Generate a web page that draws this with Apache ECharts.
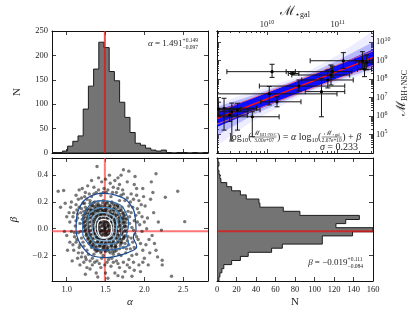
<!DOCTYPE html>
<html><head><meta charset="utf-8">
<script src="https://cdn.jsdelivr.net/npm/echarts@6/dist/echarts.min.js"></script>
<style>html,body{margin:0;padding:0;background:#fff}#c{width:415px;height:312px}</style>
</head><body><div id="c"></div>
<script>
// ================= DATA =================
const alphaFit = 1.491, alphaUp = '+0.149', alphaDn = '\u22120.097';
const betaFit = -0.019, betaUp = '+0.111', betaDn = '\u22120.084';
const sigmaText = '0.233';

// alpha histogram (30 equal bins over alphaRange)
const alphaRange = [0.81, 2.82];
const alphaCounts = [1,1,4,14,24,35,90,137,172,227,216,167,148,104,73,42,20,16,10,6,4,6,1,0,1,1,0,1,0,1];
const countRangeA = [0, 250];
const countTicksA = [0,50,100,150,200,250];
const alphaTicks = [1.0,1.5,2.0,2.5];

// beta histogram (30 equal bins over betaRange, ascending beta)
const betaRange = [-0.39, 0.528];
const betaCounts = [2,3,5,7,15,24,32,56,67,108,108,139,160,122,132,146,85,68,44,43,30,24,15,10,4,3,2,1,2,1];
const countRangeB = [0, 160];
const countTicksB = [0,20,40,60,80,100,120,140,160];
const betaTicks = [-0.2,0.0,0.2,0.4];

// top-right panel (log10 values)
const massGalRange = [9.29, 11.5];
const massBHRange = [4.0, 10.6];
const massGalTicks = [10, 11];
const massBHTicks = [5,6,7,8,9,10];
// [logMgal, logMbh, xlo, xhi, ylo, yhi]
const galaxies = [
 [10.07, 8.40, 9.43, 10.40, 8.09, 8.80],
 [10.36, 8.30, 10.30, 10.45, 8.26, 8.34],
 [11.08, 8.99, 10.61, 11.49, 8.58, 9.43],
 [11.35, 8.98, 11.25, 11.45, 8.54, 9.48],
 [11.41, 8.88, 11.30, 11.50, 8.50, 9.30],
 [11.38, 8.53, 11.28, 11.48, 8.13, 8.85],
 [10.905, 8.22, 10.35, 11.17, 7.68, 8.76],
 [10.86, 7.95, 10.49, 11.22, 7.52, 8.49],
 [10.925, 8.40, 10.27, 11.20, 8.10, 8.70],
 [10.77, 7.32, 10.54, 11.10, 5.96, 8.04],
 [10.03, 7.20, 9.20, 10.99, 6.60, 7.60],
 [10.45, 7.62, 9.89, 11.10, 7.35, 7.95],
 [10.14, 6.77, 9.91, 10.48, 6.50, 7.04],
 [9.39, 6.42, 9.20, 9.85, 5.24, 6.96],
 [9.50, 6.23, 9.20, 9.73, 4.65, 6.70],
 [9.58, 6.33, 9.20, 9.90, 5.24, 6.69],
 [9.79, 5.96, 9.20, 10.17, 4.88, 6.23],
 [9.31, 6.38, 9.20, 9.62, 6.00, 6.75],
 [9.47, 6.05, 9.20, 9.72, 5.70, 6.40]
];
const fitLineX = [9.29, 11.5], fitLineY = [5.87, 9.16];
const scatUpY = [6.22, 9.52], scatLoY = [5.56, 8.74];
const bandX = [9.29, 9.8, 10.43, 11.0, 11.5];
const outerLo = [4.40, 5.75, 7.00, 7.80, 8.40], outerHi = [6.70, 7.30, 8.10, 9.30, 10.60];
const midLo   = [4.95, 6.05, 7.12, 7.93, 8.55], midHi   = [6.50, 7.12, 7.98, 9.00, 10.00];
const coreLo  = [5.40, 6.25, 7.22, 8.05, 8.70], coreHi  = [6.30, 6.98, 7.90, 8.78, 9.60];

// alpha-beta samples
const samples = [
[1.39,0.465],[1.73,0.44],[1.80,0.43],[2.15,0.41],[0.89,0.28],[0.96,0.285],[2.43,0.28],[2.27,0.235],[2.52,0.053],[2.22,-0.01],[2.15,-0.16],[2.17,-0.21],[2.23,-0.235],[2.23,-0.27],[2.35,-0.355],[2.05,-0.27],[1.01,-0.16],[1.07,-0.24],[1.84,-0.355],[0.92,0.16],[1.62,0.36],[1.55,0.40],[1.98,0.30],[2.08,0.22],[1.93,0.12],[2.0,0.05],[2.1,-0.05],[1.95,-0.32],[1.72,-0.36],[1.50,-0.33],[1.30,-0.30],[1.12,0.25],[1.2,0.3],[1.45,0.35],[1.68,0.33],[1.04,0.05],[1.0,-0.05],[1.08,-0.12],[2.02,-0.12],[2.12,0.12],[1.9,0.25],[0.98,0.19],[1.88,0.39],[2.09,0.35],
[1.12,0.18],[1.15,0.22],[1.18,0.12],[1.14,0.08],[1.11,0.02],[1.15,-0.03],[1.13,-0.08],[1.17,-0.12],[1.20,-0.18],[1.24,-0.21],[1.28,-0.19],[1.33,-0.22],[1.39,-0.24],[1.45,-0.22],[1.52,-0.25],[1.58,-0.22],[1.64,-0.24],[1.70,-0.20],[1.76,-0.18],[1.82,-0.15],[1.85,-0.10],[1.88,-0.04],[1.84,0.01],[1.87,0.06],[1.83,0.12],[1.80,0.17],[1.75,0.21],[1.70,0.25],[1.64,0.27],[1.57,0.24],[1.51,0.27],[1.44,0.25],[1.38,0.27],[1.32,0.24],[1.26,0.22],[1.21,0.19],
[1.17,0.04],[1.19,-0.07],[1.22,-0.13],[1.26,-0.16],[1.30,0.21],[1.79,-0.06],[1.81,0.04],[1.79,0.13],[1.73,-0.14],[1.67,-0.19],[1.60,-0.19],[1.47,-0.20],[1.35,-0.19],
[1.09,0.12],[1.06,0.20],[1.10,-0.06],[1.06,-0.02],[1.24,0.27],[1.35,0.31],[1.48,0.30],[1.60,0.31],[1.72,0.29],[1.86,0.22],[1.91,0.15],[1.94,0.03],[1.92,-0.08],[1.90,-0.19],[1.86,-0.25],[1.78,-0.27],[1.68,-0.29],[1.57,-0.28],[1.44,-0.29],[1.33,-0.27],[1.22,-0.25],[1.15,-0.18],[1.27,0.32],[1.56,0.34],[1.41,0.38],[1.78,0.35],[1.98,-0.16],[2.0,-0.22],[1.96,0.18],[2.04,0.08],[1.97,-0.02],[1.87,-0.31],[1.62,-0.33],[1.38,-0.33],[1.26,-0.29],[1.16,0.29],[1.03,0.12],[1.66,0.38],[1.90,0.30],[2.06,-0.08],[1.75,-0.32],[1.93,-0.27],[1.83,0.26],[2.01,0.17],[1.14,-0.22],[1.09,-0.16],
[1.13,0.14],[1.16,0.16],[1.19,0.23],[1.23,0.24],[1.29,0.26],[1.35,0.26],[1.41,0.29],[1.47,0.27],[1.53,0.29],[1.59,0.27],[1.66,0.30],[1.73,0.26],[1.78,0.23],[1.82,0.20],[1.85,0.16],[1.89,0.10],[1.91,0.05],[1.86,-0.01],[1.90,-0.06],[1.87,-0.14],[1.84,-0.20],[1.80,-0.23],[1.73,-0.25],[1.66,-0.26],[1.60,-0.25],[1.54,-0.23],[1.49,-0.27],[1.42,-0.26],[1.36,-0.25],[1.30,-0.24],[1.25,-0.23],[1.19,-0.21],[1.16,-0.14],[1.12,-0.10],[1.10,-0.03],[1.12,0.06],[1.08,0.09],[1.14,0.11],[1.19,0.15],[1.23,0.19],[1.81,0.09],[1.83,-0.07],[1.80,-0.12],[1.77,-0.15],[1.21,-0.10],[1.18,-0.02],[1.95,-0.11],[1.97,0.09],[2.03,0.00],[1.99,0.24],[1.93,0.21],[1.04,-0.10],[1.05,0.16],[1.24,-0.34],[1.40,-0.36],[1.53,-0.37],[1.66,-0.35],[1.81,-0.29],[2.07,-0.18],[2.11,0.27],[1.32,0.36],[1.50,0.37],[1.70,0.40],[1.87,0.33],[1.17,-0.27],[1.98,-0.25],[2.13,-0.11],[2.18,0.05],[1.00,0.09],[0.97,-0.02],
[1.30,0.19],[1.36,0.20],[1.41,0.18],[1.47,0.21],[1.52,0.19],[1.58,0.20],[1.63,0.18],[1.68,0.21],
[1.24,0.16],[1.29,0.15],[1.34,0.17],[1.39,0.16],[1.44,0.15],[1.49,0.17],[1.55,0.16],[1.60,0.15],[1.66,0.17],[1.71,0.16],
[1.22,0.13],[1.27,0.12],[1.32,0.14],[1.37,0.13],[1.42,0.12],[1.46,0.14],[1.51,0.13],[1.56,0.12],[1.61,0.14],[1.67,0.13],[1.73,0.12],
[1.21,0.10],[1.26,0.09],[1.30,0.11],[1.35,0.10],[1.40,0.09],[1.45,0.11],[1.49,0.10],[1.54,0.09],[1.59,0.11],[1.64,0.10],[1.69,0.09],[1.75,0.10],
[1.20,0.07],[1.25,0.06],[1.29,0.08],[1.34,0.07],[1.38,0.06],[1.43,0.08],[1.47,0.07],[1.52,0.06],[1.57,0.08],[1.62,0.07],[1.67,0.06],[1.72,0.08],[1.77,0.07],
[1.21,0.04],[1.26,0.03],[1.31,0.05],[1.35,0.04],[1.40,0.03],[1.44,0.05],[1.49,0.04],[1.53,0.03],[1.58,0.05],[1.63,0.04],[1.68,0.03],[1.73,0.05],
[1.22,0.01],[1.27,0.00],[1.32,0.02],[1.36,0.01],[1.41,0.00],[1.46,0.02],[1.50,0.01],[1.55,0.00],[1.60,0.02],[1.65,0.01],[1.70,0.00],[1.75,0.02],
[1.23,-0.02],[1.28,-0.03],[1.33,-0.01],[1.38,-0.02],[1.42,-0.03],[1.47,-0.01],[1.51,-0.02],[1.56,-0.03],[1.61,-0.01],[1.66,-0.02],[1.71,-0.03],[1.77,-0.02],
[1.25,-0.05],[1.30,-0.06],[1.34,-0.04],[1.39,-0.05],[1.44,-0.06],[1.48,-0.04],[1.53,-0.05],[1.58,-0.06],[1.63,-0.04],[1.68,-0.05],[1.74,-0.06],
[1.27,-0.08],[1.32,-0.09],[1.36,-0.07],[1.41,-0.08],[1.46,-0.09],[1.50,-0.07],[1.55,-0.08],[1.60,-0.09],[1.65,-0.07],[1.71,-0.08],[1.78,-0.09],
[1.29,-0.11],[1.34,-0.12],[1.39,-0.10],[1.44,-0.11],[1.49,-0.12],[1.53,-0.10],[1.58,-0.11],[1.63,-0.12],[1.69,-0.10],[1.75,-0.11],
[1.32,-0.14],[1.37,-0.15],[1.42,-0.13],[1.47,-0.14],[1.52,-0.15],[1.57,-0.13],[1.62,-0.14],[1.68,-0.15],
[1.38,-0.17],[1.44,-0.18],[1.50,-0.17],[1.56,-0.18],[1.62,-0.17],
[1.33,0.115],[1.38,0.095],[1.43,0.105],[1.48,0.125],[1.53,0.085],[1.58,0.095],[1.36,0.055],[1.41,0.045],[1.46,0.035],[1.51,0.055],[1.56,0.045],[1.61,0.055],[1.34,-0.005],[1.39,0.015],[1.44,-0.015],[1.49,0.005],[1.54,0.025],[1.59,-0.005],[1.37,-0.035],[1.42,-0.045],[1.47,-0.025],[1.52,-0.035],[1.57,-0.045],[1.40,-0.065],[1.45,-0.075],[1.50,-0.055],[1.55,-0.065],[1.43,0.155],[1.50,0.145],[1.39,0.135],
[1.33,0.175],[1.385,0.18],[1.44,0.172],[1.495,0.185],[1.55,0.176],[1.605,0.18],[1.655,0.172],
[1.265,0.145],[1.315,0.14],[1.365,0.148],[1.415,0.142],[1.465,0.135],[1.52,0.15],[1.575,0.14],[1.63,0.145],[1.69,0.14],
[1.245,0.115],[1.295,0.11],[1.35,0.118],[1.40,0.112],[1.455,0.108],[1.505,0.118],[1.56,0.11],[1.615,0.116],[1.665,0.11],[1.72,0.115],
[1.225,0.085],[1.275,0.08],[1.325,0.088],[1.375,0.082],[1.425,0.078],[1.475,0.088],[1.525,0.08],[1.575,0.086],[1.625,0.08],[1.68,0.085],[1.735,0.08],
[1.23,0.055],[1.28,0.05],[1.33,0.058],[1.38,0.052],[1.43,0.048],[1.48,0.058],[1.53,0.05],[1.58,0.056],[1.63,0.05],[1.685,0.055],[1.74,0.05],
[1.235,0.025],[1.285,0.02],[1.335,0.028],[1.385,0.022],[1.435,0.018],[1.485,0.028],[1.535,0.02],[1.585,0.026],[1.635,0.02],[1.69,0.025],[1.745,0.02],
[1.245,-0.005],[1.295,-0.01],[1.345,-0.002],[1.395,-0.008],[1.445,-0.012],[1.495,-0.002],[1.545,-0.01],[1.595,-0.004],[1.645,-0.01],[1.70,-0.005],[1.755,-0.01],
[1.255,-0.035],[1.305,-0.04],[1.355,-0.032],[1.405,-0.038],[1.455,-0.042],[1.505,-0.032],[1.555,-0.04],[1.605,-0.034],[1.655,-0.04],[1.71,-0.035],
[1.275,-0.065],[1.325,-0.07],[1.375,-0.062],[1.425,-0.068],[1.475,-0.072],[1.525,-0.062],[1.575,-0.07],[1.625,-0.064],[1.68,-0.07],[1.735,-0.065],
[1.30,-0.095],[1.35,-0.10],[1.40,-0.092],[1.45,-0.098],[1.50,-0.102],[1.55,-0.092],[1.60,-0.10],[1.655,-0.094],[1.71,-0.1],
[1.32,-0.125],[1.37,-0.13],[1.42,-0.122],[1.47,-0.128],[1.52,-0.132],[1.575,-0.122],[1.63,-0.13],[1.69,-0.125],
[1.36,-0.155],[1.41,-0.16],[1.465,-0.152],[1.52,-0.158],[1.58,-0.152],[1.64,-0.16],
[1.3125,0.1675],[1.3625,0.1625],[1.4125,0.17],[1.4625,0.165],[1.5125,0.16],[1.5625,0.168],[1.6125,0.163],[1.6625,0.158],
[1.2525,0.1375],[1.3025,0.133],[1.3525,0.14],[1.4025,0.135],[1.4525,0.129],[1.5025,0.139],[1.5525,0.133],[1.6025,0.137],[1.6525,0.131],[1.7025,0.136],
[1.2325,0.1075],[1.2825,0.102],[1.3325,0.11],[1.3825,0.104],[1.4325,0.099],[1.4825,0.109],[1.5325,0.103],[1.5825,0.107],[1.6325,0.101],[1.6825,0.106],[1.7325,0.1],
[1.2175,0.0775],[1.2675,0.072],[1.3175,0.08],[1.3675,0.074],[1.4175,0.069],[1.4675,0.079],[1.5175,0.073],[1.5675,0.077],[1.6175,0.071],[1.6675,0.076],[1.7175,0.07],[1.7625,0.075],
[1.2225,0.0475],[1.2725,0.042],[1.3225,0.05],[1.3725,0.044],[1.4225,0.039],[1.4725,0.049],[1.5225,0.043],[1.5725,0.047],[1.6225,0.041],[1.6725,0.046],[1.7225,0.04],[1.7625,0.045],
[1.2275,0.0175],[1.2775,0.012],[1.3275,0.02],[1.3775,0.014],[1.4275,0.009],[1.4775,0.019],[1.5275,0.013],[1.5775,0.017],[1.6275,0.011],[1.6775,0.016],[1.7275,0.01],[1.7675,0.015],
[1.2375,-0.0125],[1.2875,-0.018],[1.3375,-0.01],[1.3875,-0.016],[1.4375,-0.021],[1.4875,-0.011],[1.5375,-0.017],[1.5875,-0.013],[1.6375,-0.019],[1.6875,-0.014],[1.7375,-0.02],
[1.2575,-0.0425],[1.3075,-0.048],[1.3575,-0.04],[1.4075,-0.046],[1.4575,-0.051],[1.5075,-0.041],[1.5575,-0.047],[1.6075,-0.043],[1.6575,-0.049],[1.7075,-0.044],[1.7525,-0.05],
[1.2825,-0.0725],[1.3325,-0.078],[1.3825,-0.07],[1.4325,-0.076],[1.4825,-0.081],[1.5325,-0.071],[1.5825,-0.077],[1.6325,-0.073],[1.6825,-0.079],[1.7325,-0.074],
[1.3025,-0.1025],[1.3525,-0.108],[1.4025,-0.1],[1.4525,-0.106],[1.5025,-0.111],[1.5525,-0.101],[1.6025,-0.107],[1.6525,-0.103],[1.7025,-0.109],
[1.3325,-0.1325],[1.3825,-0.138],[1.4325,-0.13],[1.4825,-0.136],[1.5325,-0.141],[1.5825,-0.131],[1.6325,-0.137],
[1.3925,-0.1625],[1.4425,-0.168],[1.4925,-0.16],[1.5425,-0.166],[1.5925,-0.171],
[1.3425,0.195],[1.4025,0.2],[1.4625,0.193],[1.5225,0.2],[1.5825,0.192]
];

// density contours (outer -> inner)
const contours = [
 [[1.430,0.266],[1.687,0.240],[1.838,0.165],[1.880,0.090],[1.893,-0.010],[1.858,-0.060],[1.902,-0.135],[1.858,-0.160],[1.687,-0.197],[1.515,-0.215],[1.343,-0.205],[1.236,-0.160],[1.150,-0.085],[1.120,-0.010],[1.129,0.090],[1.171,0.165],[1.258,0.228]],
 [[1.430,0.210],[1.644,0.190],[1.765,0.115],[1.795,0.028],[1.773,-0.047],[1.795,-0.110],[1.687,-0.147],[1.515,-0.160],[1.365,-0.147],[1.258,-0.097],[1.206,-0.022],[1.206,0.065],[1.249,0.140],[1.322,0.190]],
 [[1.451,0.160],[1.601,0.145],[1.687,0.090],[1.709,0.003],[1.679,-0.065],[1.558,-0.115],[1.408,-0.115],[1.309,-0.072],[1.266,0.003],[1.279,0.090],[1.344,0.140]],
 [[1.451,0.122],[1.580,0.103],[1.644,0.040],[1.636,-0.035],[1.537,-0.090],[1.408,-0.085],[1.335,-0.030],[1.322,0.053],[1.365,0.103]],
 [[1.464,0.095],[1.558,0.078],[1.601,0.015],[1.580,-0.047],[1.481,-0.072],[1.395,-0.047],[1.365,0.020],[1.395,0.078]],
 [[1.473,0.070],[1.550,0.053],[1.580,0.003],[1.558,-0.047],[1.473,-0.065],[1.408,-0.035],[1.395,0.020],[1.421,0.060]]
];
const contourColors = ['#1b4a92','#2c67ad','#4f8fc7','#86b6dc','#bcd8ee','#ffffff'];

// ================= RENDER =================
const SERIF = "'Liberation Serif','DejaVu Serif',serif";
const chart = echarts.init(document.getElementById('c'), null, {renderer:'canvas'});

const minorOf = (decades, range) => {
  const out = [];
  decades.forEach(n => [2,3,4,5,6,7,8,9].forEach(k => { const v = n + Math.log10(k); if (v > range[0] && v < range[1]) out.push(v); }));
  return out;
};
const galMinor = minorOf([9,10,11], massGalRange);
const bhMinor = minorOf([3,4,5,6,7,8,9,10], massBHRange);

const fmtBeta = v => (v < 0 ? '\u2212' : '') + Math.abs(v).toFixed(1);
const fmtAlpha = v => v.toFixed(1);
const fmtInt = v => String(v);
const pow10 = v => '{m|10}{s|' + Math.round(v) + '}';
const powRich = { m:{fontSize:8.5, fontFamily:SERIF, color:'#222'}, s:{fontSize:6, fontFamily:SERIF, color:'#222', padding:[0,0,6,0]} };

function ax(grid, pos, range, ticks, o) {
  o = o || {};
  return {
    type:'value', gridIndex:grid, position:pos, min:range[0], max:range[1], scale:true,
    axisLine:{show:true, onZero:false, lineStyle:{color:'#111', width:1}},
    axisTick:{show:true, inside:true, length:o.len || 4, customValues:ticks, lineStyle:{color:'#111', width:0.8}},
    axisLabel:{show:!!o.fmt, customValues:ticks, formatter:o.fmt, margin:(o.margin != null ? o.margin : 4), fontSize:8.5, fontFamily:SERIF, color:'#222', rich:o.rich, hideOverlap:false, showMinLabel:true, showMaxLabel:true},
    splitLine:{show:false}, minorTick:{show:false},
    name:o.name || '', nameLocation:'middle', nameGap:o.gap || 20,
    nameTextStyle:{fontSize:11, fontFamily:SERIF, color:'#222', fontStyle:o.it ? 'italic' : 'normal'}
  };
}

function histShape(range, counts, horizontal) {
  return function (params, api) {
    const n = counts.length, w = (range[1] - range[0]) / n;
    const P = (v, c) => horizontal ? api.coord([c, v]) : api.coord([v, c]);
    const pts = [P(range[0], 0)];
    for (let i = 0; i < n; i++) { pts.push(P(range[0] + i * w, counts[i])); pts.push(P(range[0] + (i + 1) * w, counts[i])); }
    pts.push(P(range[1], 0));
    return {type:'polygon', shape:{points:pts}, style:{fill:'#747474', stroke:'#1c1c1c', lineWidth:1}};
  };
}
function bandShape(lo, hi, color) {
  return function (params, api) {
    const pts = [];
    for (let i = 0; i < bandX.length; i++) pts.push(api.coord([bandX[i], hi[i]]));
    for (let i = bandX.length - 1; i >= 0; i--) pts.push(api.coord([bandX[i], lo[i]]));
    return {type:'polygon', shape:{points:pts}, style:{fill:color}};
  };
}
function errShape(params, api) {
  const x = api.value(0), y = api.value(1), xl = api.value(2), xh = api.value(3), yl = api.value(4), yh = api.value(5);
  const c = api.coord([x, y]), a = api.coord([xl, y]), b = api.coord([xh, y]), d = api.coord([x, yl]), e = api.coord([x, yh]);
  const st = {stroke:'#151515', lineWidth:1};
  const L = (x1, y1, x2, y2) => ({type:'line', shape:{x1, y1, x2, y2}, style:st});
  const cap = 2.5;
  return {type:'group', children:[
    L(a[0], a[1], b[0], b[1]), L(d[0], d[1], e[0], e[1]),
    L(d[0] - cap, d[1], d[0] + cap, d[1]), L(e[0] - cap, e[1], e[0] + cap, e[1]),
    L(a[0], a[1] - cap, a[0], a[1] + cap), L(b[0], b[1] - cap, b[0], b[1] + cap),
    {type:'circle', shape:{cx:c[0], cy:c[1], r:1.6}, style:{fill:'#000'}}
  ]};
}
const seg = (x0, y0, x1, y1) => [[x0, y0], [x1, y1]];

const series = [
  {type:'custom', xAxisIndex:0, yAxisIndex:0, renderItem:histShape(alphaRange, alphaCounts, false), data:[[alphaRange[0], 0]], clip:true, silent:true, z:2},
  {type:'line', xAxisIndex:0, yAxisIndex:0, data:seg(alphaFit, countRangeA[0], alphaFit, countRangeA[1]), symbol:'none', lineStyle:{color:'rgba(225,20,20,0.75)', width:2}, z:3, silent:true},
  {type:'custom', xAxisIndex:2, yAxisIndex:2, renderItem:bandShape(outerLo, outerHi, 'rgba(110,110,255,0.12)'), data:[[bandX[0], outerLo[0]]], clip:true, silent:true, z:2},
  {type:'custom', xAxisIndex:2, yAxisIndex:2, renderItem:bandShape(midLo, midHi, 'rgba(50,50,255,0.28)'), data:[[bandX[0], midLo[0]]], clip:true, silent:true, z:2},
  {type:'custom', xAxisIndex:2, yAxisIndex:2, renderItem:bandShape(coreLo, coreHi, 'rgba(0,0,255,0.92)'), data:[[bandX[0], coreLo[0]]], clip:true, silent:true, z:2},
  {type:'line', xAxisIndex:2, yAxisIndex:2, data:seg(fitLineX[0], scatUpY[0], fitLineX[1], scatUpY[1]), symbol:'none', lineStyle:{color:'rgba(255,110,110,0.85)', width:1}, z:3, silent:true},
  {type:'line', xAxisIndex:2, yAxisIndex:2, data:seg(fitLineX[0], scatLoY[0], fitLineX[1], scatLoY[1]), symbol:'none', lineStyle:{color:'rgba(255,110,110,0.85)', width:1}, z:3, silent:true},
  {type:'line', xAxisIndex:2, yAxisIndex:2, data:seg(fitLineX[0], fitLineY[0], fitLineX[1], fitLineY[1]), symbol:'none', lineStyle:{color:'#ff1010', width:1.5}, z:3, silent:true},
  {type:'custom', xAxisIndex:2, yAxisIndex:2, renderItem:errShape, data:galaxies, clip:true, silent:true, z:4},
  {type:'line', xAxisIndex:6, yAxisIndex:6, data:seg(alphaFit, betaRange[0], alphaFit, betaRange[1]), symbol:'none', lineStyle:{color:'rgba(255,60,60,0.7)', width:2}, z:2, silent:true},
  {type:'line', xAxisIndex:6, yAxisIndex:6, data:seg(alphaRange[0], betaFit, alphaRange[1], betaFit), symbol:'none', lineStyle:{color:'rgba(255,60,60,0.7)', width:2}, z:2, silent:true},
  {type:'scatter', xAxisIndex:6, yAxisIndex:6, data:samples, symbolSize:3.4, itemStyle:{color:'rgba(10,10,10,0.55)', opacity:1}, z:3, silent:true, large:false, progressive:0},
  {type:'custom', xAxisIndex:8, yAxisIndex:8, renderItem:histShape(betaRange, betaCounts, true), data:[[0, betaRange[0]]], clip:true, silent:true, z:2},
  {type:'line', xAxisIndex:8, yAxisIndex:8, data:seg(countRangeB[0], betaFit, countRangeB[1], betaFit), symbol:'none', lineStyle:{color:'rgba(225,20,20,0.75)', width:2}, z:3, silent:true}
];
contours.forEach((c, i) => series.push({type:'line', xAxisIndex:6, yAxisIndex:6, data:c.concat([c[0]]), smooth:0.5, symbol:'none', lineStyle:{color:contourColors[i], width:1.2}, z:4, silent:true}));

// ---------- text layout helpers ----------
const mctx = document.createElement('canvas').getContext('2d');
const fontStr = (size, it) => (it ? 'italic ' : '') + size + 'px ' + SERIF;
const measure = (t, size, it) => { mctx.font = fontStr(size, it); return mctx.measureText(t).width; };
const txt = (t, x, y, size, it) => ({type:'text', x, y, z:100, silent:true, style:{text:t, fill:'#222', font:fontStr(size, it), textAlign:'left', textVerticalAlign:'middle', align:'left', verticalAlign:'middle'}});
const runW = parts => parts.reduce((a, p) => a + measure(p.t, p.size, p.it), 0);
function emitRun(parts, x, y, els) { parts.forEach(p => { els.push(txt(p.t, x, y + (p.dy || 0), p.size, p.it)); x += measure(p.t, p.size, p.it); }); }
function layout(segs, x0, y, align) {
  segs.forEach(s => { if (s.stack) { s._ws = s.stack.map(runW); s._w = Math.max(...s._ws) + 2 * (s.pad || 0); } else s._w = runW(s.run); });
  const W = segs.reduce((a, s) => a + s._w, 0);
  let x = align === 'right' ? x0 - W : align === 'center' ? x0 - W / 2 : x0;
  const els = [];
  segs.forEach(s => {
    if (s.stack) {
      s.stack.forEach((r, i) => { const rx = s.center ? x + (s._w - s._ws[i]) / 2 : x + (s.pad || 0); emitRun(r, rx, y + s.dys[i], els); });
      if (s.line) els.push({type:'line', z:100, silent:true, shape:{x1:x + 0.5, y1:y, x2:x + s._w - 0.5, y2:y}, style:{stroke:'#333', lineWidth:0.6}});
    } else emitRun(s.run, x, y, els);
    x += s._w;
  });
  return els;
}

const graphics = [];
graphics.push(...layout([
  {run:[{t:'\u03b1', size:9, it:1}, {t:' = 1.491', size:9}]},
  {stack:[[{t:alphaUp, size:5.5}], [{t:alphaDn, size:5.5}]], dys:[-3, 3.5]}
], 198, 44, 'right'));
graphics.push(...layout([
  {run:[{t:'\u03b2', size:9, it:1}, {t:' = \u22120.019', size:9}]},
  {stack:[[{t:betaUp, size:5.5}], [{t:betaDn, size:5.5}]], dys:[-3, 3.5]}
], 363, 263, 'right'));
graphics.push(...layout([
  {run:[{t:'log', size:10}, {t:'10', size:6.5, dy:3}, {t:'(', size:10}]},
  {stack:[[{t:'\u2133', size:7}, {t:'BH+NSC', size:4.2, dy:1.5}], [{t:'3.00e+07', size:5.3}]], dys:[-4, 4], center:true, line:true, pad:0.5},
  {run:[{t:') = ', size:10}, {t:'\u03b1', size:10, it:1}, {t:' log', size:10}, {t:'10', size:6.5, dy:3}, {t:'(', size:10}]},
  {stack:[[{t:'\u2133', size:7}, {t:'\u22c6gal', size:4.2, dy:1.5}], [{t:'2.67e+10', size:5.3}]], dys:[-4, 4], center:true, line:true, pad:0.5},
  {run:[{t:') + ', size:10}, {t:'\u03b2', size:10, it:1}]}
], 229, 137, 'left'));
graphics.push(...layout([{run:[{t:'\u03c3', size:10, it:1}, {t:' = ' + sigmaText, size:10}]}], 358, 147, 'right'));
graphics.push(...layout([{run:[{t:'\u2133', size:13}, {t:'\u22c6gal', size:8, dy:3}]}], 295, 12, 'center'));
graphics.push({type:'group', x:402, y:93, rotation:Math.PI / 2, children:layout([{run:[{t:'\u2133', size:13}, {t:'BH+NSC', size:8, dy:3}]}], 0, 0, 'center')});

const option = {
  animation:false,
  backgroundColor:'#fff',
  grid:[
    {left:52, top:31, width:156, height:122, outerBoundsMode:'none'},
    {left:217, top:31, width:156, height:122, outerBoundsMode:'none'},
    {left:52, top:158, width:156, height:123, outerBoundsMode:'none'},
    {left:217, top:158, width:156, height:123, outerBoundsMode:'none'}
  ],
  xAxis:[
    ax(0, 'bottom', alphaRange, alphaTicks),
    ax(0, 'top', alphaRange, alphaTicks),
    ax(1, 'top', massGalRange, massGalTicks, {fmt:pow10, rich:powRich, margin:0}),
    ax(1, 'bottom', massGalRange, massGalTicks),
    ax(1, 'top', massGalRange, galMinor, {len:2}),
    ax(1, 'bottom', massGalRange, galMinor, {len:2}),
    ax(2, 'bottom', alphaRange, alphaTicks, {fmt:fmtAlpha, name:'\u03b1', it:1, gap:16}),
    ax(2, 'top', alphaRange, alphaTicks),
    ax(3, 'bottom', countRangeB, countTicksB, {fmt:fmtInt, name:'N', gap:16}),
    ax(3, 'top', countRangeB, countTicksB)
  ],
  yAxis:[
    ax(0, 'left', countRangeA, countTicksA, {fmt:fmtInt, name:'N', gap:29}),
    ax(0, 'right', countRangeA, countTicksA),
    ax(1, 'right', massBHRange, massBHTicks, {fmt:pow10, rich:powRich, margin:3}),
    ax(1, 'left', massBHRange, massBHTicks),
    ax(1, 'right', massBHRange, bhMinor, {len:2}),
    ax(1, 'left', massBHRange, bhMinor, {len:2}),
    ax(2, 'left', betaRange, betaTicks, {fmt:fmtBeta, name:'\u03b2', it:1, gap:32}),
    ax(2, 'right', betaRange, betaTicks),
    ax(3, 'left', betaRange, betaTicks),
    ax(3, 'right', betaRange, betaTicks)
  ],
  series,
  graphic:{elements:graphics}
};
chart.setOption(option);
</script>
</body></html>
